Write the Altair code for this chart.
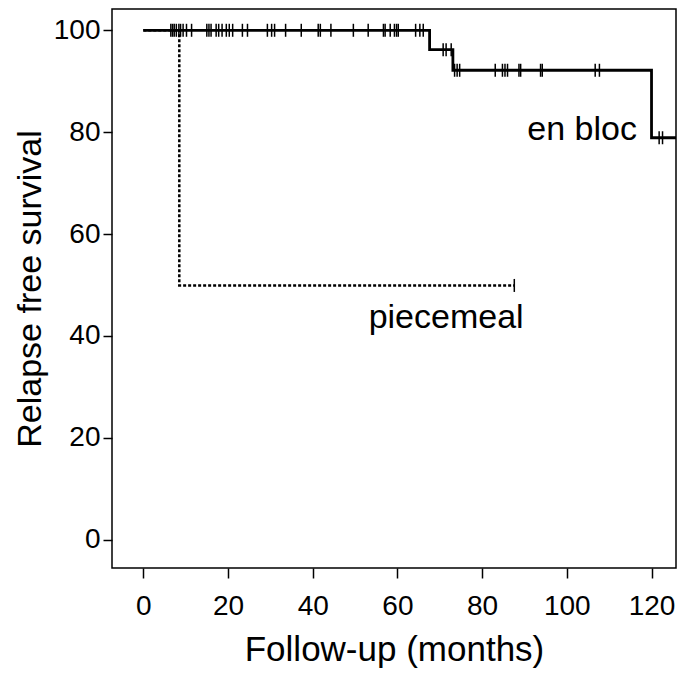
import altair as alt
import pandas as pd

# Kaplan-Meier step points (time in months, survival %)
enbloc_time = [0, 67.6, 73.1, 120.0, 126.6]
enbloc_surv = [100, 96.2, 92.15, 78.9, 78.9]
piece_time = [0, 8.5, 87.6]
piece_surv = [100, 49.9, 49.9]

# censored observations (months)
enbloc_censor = [6.5, 6.9, 7.3, 7.8, 8.4, 8.8, 9.4, 10.2, 11.4, 15.0, 15.5, 16.0,
                 17.2, 17.8, 18.6, 19.6, 20.3, 21.1, 23.4, 24.6, 29.3, 30.3, 31.0,
                 33.6, 37.3, 41.3, 41.8, 44.3, 49.6, 53.1, 56.7, 57.1, 58.3, 59.3,
                 59.8, 60.2, 64.3, 65.3, 66.1, 70.8, 71.5, 72.7, 73.5, 74.1, 74.7,
                 83.1, 84.8, 85.4, 86.0, 88.7, 89.1, 93.8, 94.2, 106.7, 107.7,
                 121.8, 122.6]
piece_censor = [87.6]

labels_text = ["en bloc", "piecemeal"]
labels_x = [103.6, 71.5]
labels_y = [80.4, 43.5]

x_ticks = [0, 20, 40, 60, 80, 100, 120]
y_ticks = [0, 20, 40, 60, 80, 100]


def surv_at(times, survs, t):
    s = survs[0]
    for ti, si in zip(times, survs):
        if ti <= t:
            s = si
    return s


en_df = pd.DataFrame({"t": enbloc_time, "s": enbloc_surv})
pc_df = pd.DataFrame({"t": piece_time, "s": piece_surv})
cen_df = pd.DataFrame({
    "t": enbloc_censor + piece_censor,
    "s": [surv_at(enbloc_time, enbloc_surv, t) for t in enbloc_censor]
         + [surv_at(piece_time, piece_surv, t) for t in piece_censor],
})
lab_df = pd.DataFrame({"label": labels_text, "x": labels_x, "y": labels_y})

FONT = "Liberation Sans"

xs = alt.Scale(domain=[-7.39, 125.78], nice=False, zero=False)
ys = alt.Scale(domain=[-5.58, 104.18], nice=False, zero=False)

xenc = alt.X("t:Q", scale=xs, axis=alt.Axis(
    values=x_ticks, title="Follow-up (months)", grid=False, domain=False,
    tickSize=10, tickWidth=1.5, tickColor="black",
    labelFontSize=28, labelColor="black", labelFont=FONT, labelPadding=14,
    titleFontSize=35, titleFont=FONT, titleFontWeight="normal",
    titleColor="black", titlePadding=12))
yenc = alt.Y("s:Q", scale=ys, axis=alt.Axis(
    values=y_ticks, title="Relapse free survival", grid=False, domain=False,
    tickSize=9, tickWidth=1.5, tickColor="black",
    labelFontSize=28, labelColor="black", labelFont=FONT, labelPadding=3,
    titleFontSize=34, titleFont=FONT, titleFontWeight="normal",
    titleColor="black", titlePadding=6))

piece_line = alt.Chart(pc_df).mark_line(
    interpolate="step-after", color="black", strokeWidth=2.5,
    strokeDash=[3, 2], clip=True).encode(x=xenc, y=yenc)

en_line = alt.Chart(en_df).mark_line(
    interpolate="step-after", color="black", strokeWidth=2.8,
    clip=True).encode(x=xenc, y=yenc)

censor = alt.Chart(cen_df).mark_tick(
    orient="vertical", size=13, thickness=1.5, color="black",
    opacity=1).encode(x=xenc, y=yenc)

texts = alt.Chart(lab_df).mark_text(
    fontSize=34, font=FONT, color="black", align="center",
    baseline="middle").encode(
    x=alt.X("x:Q", scale=xs), y=alt.Y("y:Q", scale=ys), text="label:N")

chart = alt.layer(piece_line, en_line, censor, texts).properties(
    width=564, height=559,
    autosize="none",
    padding={"left": 104, "top": 1, "right": 1, "bottom": 100},
).configure_view(stroke="black", strokeWidth=1.5)

chart.save("out.html", embed_options={"renderer": "svg", "actions": False})
